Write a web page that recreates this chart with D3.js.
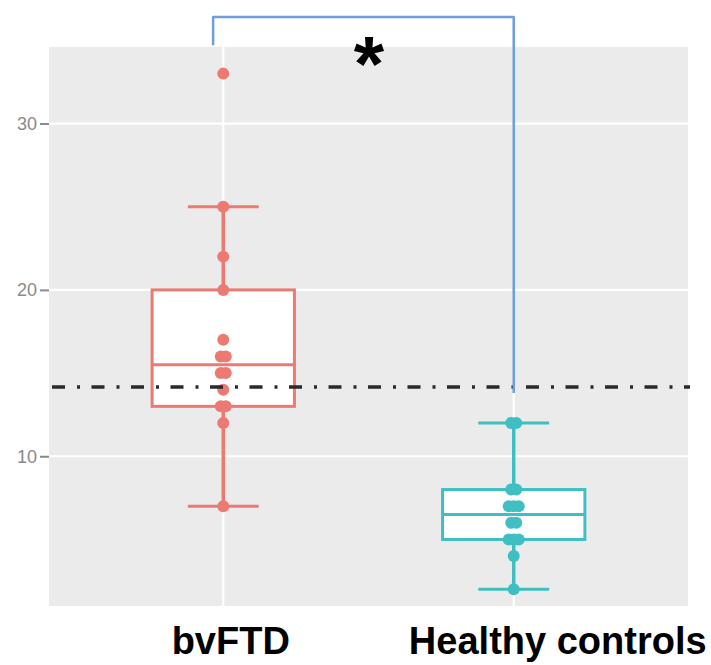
<!DOCTYPE html>
<html>
<head>
<meta charset="utf-8">
<script src="https://cdn.jsdelivr.net/npm/d3@7"></script>
<style>
  html, body { margin: 0; padding: 0; background: #fff; }
  svg { display: block; }
</style>
</head>
<body>
<div id="chart"></div>
<script>
// Gruppen und Werte
const groups = ["bvFTD", "Healthy controls"];
const groupColors = ["#ED7A72", "#40BFC2"];

const bvftdValues = [33, 25, 22, 20, 17, 16, 16, 15, 15, 14, 13, 13, 12, 7];
const healthyValues = [12, 12, 8, 8, 7, 7, 7, 6, 6, 5, 5, 5, 4, 2];

// Boxplot-Kennzahlen: [unterer Whisker, Q1, Median, Q3, oberer Whisker]
const bvftdBox = [7, 13, 15.5, 20, 25];
const healthyBox = [2, 5, 6.5, 8, 12];

const yTicks = [10, 20, 30];
const cutoffValue = 14.16;       // gestrichelte Referenzlinie
const bracketTop = 36.4;          // Signifikanz-Klammer
const bracketLeftEnd = 34.7;
const bracketRightEnd = 13.8;
const bracketGroups = [0.965, 2.0];
const significanceLabel = "*";

const series = [
    { name: groups[0], values: bvftdValues, box: bvftdBox, color: groupColors[0] },
    { name: groups[1], values: healthyValues, box: healthyBox, color: groupColors[1] }
];

// Dimensionen
const W = 711, H = 665;
const panel = { left: 49, right: 688, top: 47, bottom: 606 };

const svg = d3.select("#chart").append("svg")
    .attr("width", W)
    .attr("height", H);

// Skalen
const x = d3.scaleLinear().domain([0.4, 2.6]).range([panel.left, panel.right]);
const y = d3.scaleLinear().domain([1, 34.6]).range([panel.bottom, panel.top]);

// Panel-Hintergrund
svg.append("rect")
    .attr("x", panel.left)
    .attr("y", panel.top)
    .attr("width", panel.right - panel.left)
    .attr("height", panel.bottom - panel.top)
    .attr("fill", "#EBEBEB");

// Gitterlinien
svg.append("g").selectAll("line")
    .data(yTicks)
    .join("line")
    .attr("x1", panel.left).attr("x2", panel.right)
    .attr("y1", d => y(d)).attr("y2", d => y(d))
    .attr("stroke", "#fff")
    .attr("stroke-width", 2.2);

svg.append("g").selectAll("line")
    .data(series)
    .join("line")
    .attr("x1", (d, i) => x(i + 1)).attr("x2", (d, i) => x(i + 1))
    .attr("y1", panel.top).attr("y2", panel.bottom)
    .attr("stroke", "#fff")
    .attr("stroke-width", 2.2);

// Y-Achse
const yAxis = d3.axisLeft(y).tickValues(yTicks).tickSize(9).tickPadding(3);
const yAxisG = svg.append("g")
    .attr("transform", `translate(${panel.left},0)`)
    .call(yAxis);
yAxisG.select(".domain").remove();
yAxisG.selectAll("line").attr("stroke", "#8a8a8a").attr("stroke-width", 2);
yAxisG.selectAll("text")
    .attr("fill", "#8a8a8a")
    .attr("font-family", "Liberation Sans, Arial, sans-serif")
    .attr("font-size", "18px");

// Boxplots
series.forEach((s, i) => {
    const g = svg.append("g");
    const cx = x(i + 1);
    const boxHalf = (x(1.245) - x(1));
    const capHalf = (x(1.122) - x(1));
    const [lo, q1, med, q3, hi] = s.box;

    // Whisker
    g.append("line")
        .attr("x1", cx).attr("x2", cx)
        .attr("y1", y(q3)).attr("y2", y(hi))
        .attr("stroke", s.color).attr("stroke-width", 3.5);
    g.append("line")
        .attr("x1", cx).attr("x2", cx)
        .attr("y1", y(q1)).attr("y2", y(lo))
        .attr("stroke", s.color).attr("stroke-width", 3.5);

    // Kappen
    [lo, hi].forEach(v => {
        g.append("line")
            .attr("x1", cx - capHalf).attr("x2", cx + capHalf)
            .attr("y1", y(v)).attr("y2", y(v))
            .attr("stroke", s.color).attr("stroke-width", 3);
    });

    // Box
    g.append("rect")
        .attr("x", cx - boxHalf)
        .attr("y", y(q3))
        .attr("width", boxHalf * 2)
        .attr("height", y(q1) - y(q3))
        .attr("fill", "#fff")
        .attr("stroke", s.color)
        .attr("stroke-width", 3);

    // Median
    g.append("line")
        .attr("x1", cx - boxHalf).attr("x2", cx + boxHalf)
        .attr("y1", y(med)).attr("y2", y(med))
        .attr("stroke", s.color).attr("stroke-width", 3);

    // Punkte: gleiche Werte leicht nebeneinander versetzt
    const counts = d3.rollup(s.values, v => v.length, d => d);
    const seen = new Map();
    const pts = s.values.map(v => {
        const n = counts.get(v);
        const k = seen.get(v) || 0;
        seen.set(v, k + 1);
        return { v, off: (k - (n - 1) / 2) * 5 };
    });
    g.selectAll("circle")
        .data(pts)
        .join("circle")
        .attr("cx", d => cx + d.off)
        .attr("cy", d => y(d.v))
        .attr("r", 6)
        .attr("fill", s.color);
});

// Referenzlinie (strich-punktiert)
svg.append("line")
    .attr("x1", panel.left).attr("x2", panel.right + 2)
    .attr("y1", y(cutoffValue)).attr("y2", y(cutoffValue))
    .attr("stroke", "#2a2a2a")
    .attr("stroke-width", 3.5)
    .attr("stroke-dasharray", "13,12,3,11.5")
    .attr("stroke-dashoffset", -3);

// Signifikanz-Klammer
svg.append("path")
    .attr("d", d3.line()([
        [x(bracketGroups[0]), y(bracketLeftEnd)],
        [x(bracketGroups[0]), y(bracketTop)],
        [x(bracketGroups[1]), y(bracketTop)],
        [x(bracketGroups[1]), y(bracketRightEnd)]
    ]))
    .attr("fill", "none")
    .attr("stroke", "#6E9DE0")
    .attr("stroke-width", 2.5)
    .attr("stroke-linejoin", "round");

svg.append("text")
    .attr("x", x(d3.mean(bracketGroups)) + 5.5)
    .attr("y", 91)
    .attr("text-anchor", "middle")
    .attr("font-family", "Liberation Sans, Arial, sans-serif")
    .attr("font-weight", "bold")
    .attr("font-size", "78px")
    .attr("fill", "#000")
    .text(significanceLabel);

// X-Beschriftungen
const labelOffsets = [7.5, 44];
svg.append("g").selectAll("text")
    .data(groups)
    .join("text")
    .attr("x", (d, i) => x(i + 1) + labelOffsets[i])
    .attr("y", 654)
    .attr("text-anchor", "middle")
    .attr("font-family", "Liberation Sans, Arial, sans-serif")
    .attr("font-weight", "bold")
    .attr("font-size", "38px")
    .attr("fill", "#000")
    .text(d => d);
</script>
</body>
</html>
